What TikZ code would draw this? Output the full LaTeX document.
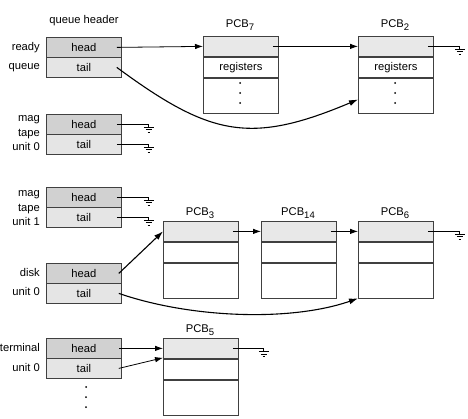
\documentclass[tikz,border=0pt]{standalone}
\usepackage{fontspec}
\setmainfont{Liberation Sans}
\usetikzlibrary{arrows.meta}
\newcommand{\pcbsub}[1]{\raisebox{-3pt}{\fontsize{9.5}{10}\selectfont #1}}
\begin{document}
\begin{tikzpicture}[x=1pt,y=-1pt,
  font=\fontsize{11.2}{13.5}\selectfont,
  cell/.style={draw=black!75,line width=0.8pt,minimum width=75pt,
    minimum height=20pt,inner sep=0pt,anchor=north west},
  hd/.style={cell,fill=black!18},
  tl/.style={cell,fill=black!10},
  ptop/.style={cell,fill=black!9},
  pmid/.style={cell,fill=white},
  pbot/.style={cell,fill=white,minimum height=35pt},
  ptr/.style={line width=0.8pt,-{Latex[length=8pt,width=5.5pt]}},
  bendptr/.style={line width=1.1pt,-{Latex[length=9pt,width=6pt]}},
  wire/.style={line width=0.8pt},
  side/.style={anchor=base east,inner sep=0pt},
  pcbname/.style={anchor=base,inner sep=0pt},
  earth/.pic={\draw[line width=0.8pt] (0,0) -- (0,3)
      (-5,3) -- (5,3) (-3,5.5) -- (3,5.5) (-1.3,8) -- (1.3,8);}
]
\useasboundingbox (0,0) rectangle (468,419);

% ---- queue headers ----
\node[anchor=base,inner sep=0pt] (qh) at (84,24) {queue header};

\node[hd] (rqh) at (46,37) {head};
\node[tl] (rqt) at (46,57) {tail};
\node[side] (rq1) at (40,51) {ready};
\node[side] (rq2) at (40,70) {queue};

\node[hd] (m0h) at (46,114) {head};
\node[tl] (m0t) at (46,134) {tail};
\node[side] (m0a) at (40,122) {mag};
\node[side] (m0b) at (40,136.5) {tape};
\node[side] (m0c) at (40,151) {unit 0};

\node[hd] (m1h) at (46,187) {head};
\node[tl] (m1t) at (46,207) {tail};
\node[side] (m1a) at (40,197) {mag};
\node[side] (m1b) at (40,211.5) {tape};
\node[side] (m1c) at (40,226) {unit 1};

\node[hd] (dkh) at (46,263) {head};
\node[tl] (dkt) at (46,283) {tail};
\node[side] (dk1) at (40,276.5) {disk};
\node[side] (dk2) at (40,296) {unit 0};

\node[hd] (tmh) at (46,338) {head};
\node[tl] (tmt) at (46,358) {tail};
\node[side] (tm1) at (40,351.5) {terminal};
\node[side] (tm2) at (40,371) {unit 0};

\foreach \y in {387,397,407} \fill (86,\y) circle (1pt);

% ---- process control blocks ----
% PCB 7
\node[ptop] (p7a) at (203,36) {};
\node[pmid] (p7b) at (p7a.south west) {registers};
\node[pbot] (p7c) at (p7b.south west) {};
\node[pcbname] (n7) at (240,28) {PCB\pcbsub{7}};
% PCB 2
\node[ptop] (p2a) at (358,36) {};
\node[pmid] (p2b) at (p2a.south west) {registers};
\node[pbot] (p2c) at (p2b.south west) {};
\node[pcbname] (n2) at (395,28) {PCB\pcbsub{2}};
\foreach \y in {83,93,103} {\fill (240,\y) circle (1pt); \fill (395,\y) circle (1pt);}
% PCB 3
\node[ptop] (p3a) at (163,221) {};
\node[pmid] (p3b) at (p3a.south west) {};
\node[pbot] (p3c) at (p3b.south west) {};
\node[pcbname] (n3) at (200,215.5) {PCB\pcbsub{3}};
% PCB 14
\node[ptop] (p14a) at (261,221) {};
\node[pmid] (p14b) at (p14a.south west) {};
\node[pbot] (p14c) at (p14b.south west) {};
\node[pcbname] (n14) at (298,215.5) {PCB\pcbsub{14}};
% PCB 6
\node[ptop] (p6a) at (358,221) {};
\node[pmid] (p6b) at (p6a.south west) {};
\node[pbot] (p6c) at (p6b.south west) {};
\node[pcbname] (n6) at (395,215.5) {PCB\pcbsub{6}};
% PCB 5
\node[ptop] (p5a) at (163,338) {};
\node[pmid] (p5b) at (p5a.south west) {};
\node[pbot] (p5c) at (p5b.south west) {};
\node[pcbname] (n5) at (200,332.5) {PCB\pcbsub{5}};

% ---- null pointer ends ----
\coordinate (gm0h) at ([xshift=27pt]m0h.east);
\coordinate (gm0t) at ([xshift=27pt]m0t.east);
\coordinate (gm1h) at ([xshift=27pt]m1h.east);
\coordinate (gm1t) at ([xshift=27pt]m1t.east);
\coordinate (gp2) at ([xshift=26pt]p2a.east);
\coordinate (gp6) at ([xshift=26pt]p6a.east);
\coordinate (gp5) at ([xshift=25pt]p5a.east);

\draw[wire] ([xshift=-5pt]m0h.east) -- (gm0h) pic{earth};
\draw[wire] ([xshift=-5pt]m0t.east) -- (gm0t) pic{earth};
\draw[wire] ([xshift=-5pt]m1h.east) -- (gm1h) pic{earth};
\draw[wire] ([xshift=-5pt]m1t.east) -- (gm1t) pic{earth};
\draw[wire] ([xshift=-6pt]p2a.east) -- (gp2) pic{earth};
\draw[wire] ([xshift=-6pt]p6a.east) -- (gp6) pic{earth};
\draw[wire] ([xshift=-6pt]p5a.east) -- (gp5) pic{earth};

% ---- links ----
\draw[ptr] ([xshift=-5pt]rqh.east) -- (p7a.west);
\draw[ptr] ([xshift=-6pt]p7a.east) -- (p2a.west);
\draw[bendptr] ([xshift=-5pt]rqt.east) .. controls (210,136) and (250,145) .. ([yshift=-4pt]p2c.west);

\draw[bendptr] ([xshift=-3pt]dkh.east) -- (p3a.west);
\draw[ptr] ([xshift=-6pt]p3a.east) -- (p14a.west);
\draw[ptr] ([xshift=-6pt]p14a.east) -- (p6a.west);
\draw[bendptr] ([xshift=-3pt]dkt.east) .. controls (190,318) and (290,322) .. (p6c.south west);

\draw[ptr] ([xshift=-3pt]tmh.east) -- (p5a.west);
\draw[ptr] ([xshift=-3pt]tmt.east) -- ([yshift=1pt]p5a.south west);
\end{tikzpicture}
\end{document}
